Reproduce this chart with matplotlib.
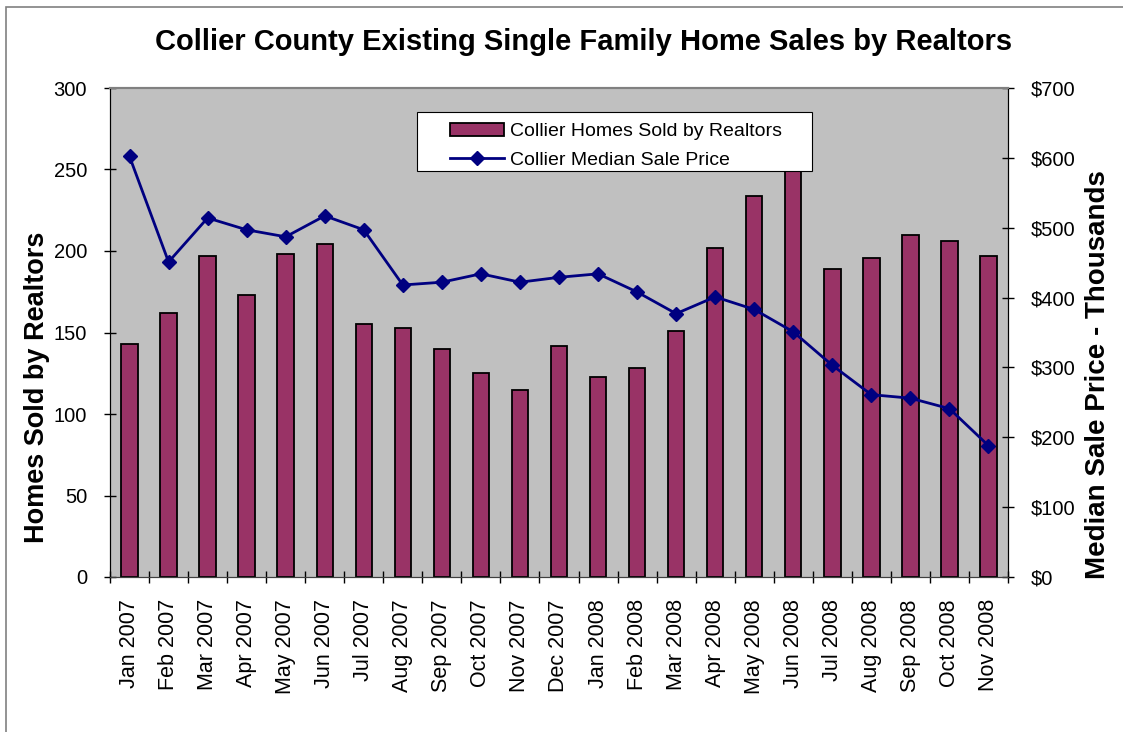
import numpy as np
import matplotlib
matplotlib.use('Agg')
import matplotlib.pyplot as plt
from matplotlib.patches import Rectangle

plt.rcParams['font.family'] = ['Liberation Sans', 'DejaVu Sans']

months = ['Jan 2007', 'Feb 2007', 'Mar 2007', 'Apr 2007', 'May 2007', 'Jun 2007',
          'Jul 2007', 'Aug 2007', 'Sep 2007', 'Oct 2007', 'Nov 2007', 'Dec 2007',
          'Jan 2008', 'Feb 2008', 'Mar 2008', 'Apr 2008', 'May 2008', 'Jun 2008',
          'Jul 2008', 'Aug 2008', 'Sep 2008', 'Oct 2008', 'Nov 2008']
homes_sold = [143, 162, 197, 173, 198, 204, 155, 153, 140, 125, 115, 142,
              123, 128, 151, 202, 234, 252, 189, 196, 210, 206, 197]
# median sale price, thousands of dollars
median_price = [602, 451, 514, 497, 487, 517, 497, 418, 422, 434, 422, 429,
                434, 408, 377, 401, 383, 351, 303, 261, 256, 241, 188]

bar_color = '#993366'
line_color = '#000080'
n = len(months)
x = np.arange(n)

fig = plt.figure(figsize=(11.23, 7.32), dpi=100)
ax = fig.add_axes([110 / 1123, 1 - 577 / 732, 898 / 1123, 489 / 732])
ax.set_facecolor('#C0C0C0')

# outer chart border
fig.patches.append(Rectangle((6 / 1123, -0.1), 1.2, 1 - 7 / 732 + 0.1,
                             transform=fig.transFigure, fill=False,
                             edgecolor='#808080', lw=1.2))

bars = ax.bar(x, homes_sold, width=0.42, color=bar_color, edgecolor='black',
              linewidth=1.3, label='Collier Homes Sold by Realtors', zorder=2)
ax.set_xlim(-0.5, n - 0.5)
ax.set_ylim(0, 300)
ax.set_yticks(np.arange(0, 301, 50))

ax2 = ax.twinx()
line, = ax2.plot(x, median_price, color=line_color, lw=2, marker='D', ms=7,
                 label='Collier Median Sale Price', zorder=3)
ax2.set_ylim(0, 700)
ax2.set_yticks(np.arange(0, 701, 100))
ax2.set_yticklabels(['$%d' % v for v in range(0, 701, 100)])

ax.set_xticks(np.arange(n + 1) - 0.5)
ax.set_xticklabels([])
ax.set_xticks(x, months, minor=True, rotation=90)
ax.tick_params(axis='x', which='major', direction='inout', length=9, width=1)
ax.tick_params(axis='x', which='minor', length=0, pad=16, labelsize=15.5)
ax.tick_params(axis='y', direction='inout', length=9, width=1, pad=12, labelsize=14.5)
ax2.tick_params(axis='y', direction='inout', length=9, width=1, pad=12, labelsize=14.5)

for a in (ax, ax2):
    a.spines['top'].set_color('#808080')
    a.spines['top'].set_linewidth(1.5)
    a.spines['bottom'].set_color('#404040')
ax.spines['left'].set_color('black')
ax2.spines['right'].set_color('black')

# legend frame drawn by hand to match the wide left margin
ax2.add_patch(Rectangle((417 / 1123, 1 - 171 / 732), 395 / 1123, 59 / 732,
                        transform=fig.transFigure, facecolor='white',
                        edgecolor='black', lw=0.8, zorder=6, clip_on=False))
leg = ax2.legend([bars, line], [bars.get_label(), line.get_label()],
                 loc='upper left', bbox_to_anchor=(436 / 1123, 1 - 109 / 732),
                 bbox_transform=fig.transFigure, frameon=False, fontsize=14,
                 handlelength=2.8, handletextpad=0.3, labelspacing=0.55,
                 borderpad=0.2)
leg.set_zorder(7)

fig.text(584 / 1123, 1 - 42 / 732,
         'Collier County Existing Single Family Home Sales by Realtors',
         ha='center', va='center', fontsize=21, fontweight='bold')
fig.text(37 / 1123, 1 - 387 / 732, 'Homes Sold by Realtors', rotation=90,
         ha='center', va='center', fontsize=19.5, fontweight='bold')
fig.text(1098 / 1123, 1 - 375 / 732, 'Median Sale Price - Thousands', rotation=90,
         ha='center', va='center', fontsize=20, fontweight='bold')

fig.savefig('out.png', dpi=100)
